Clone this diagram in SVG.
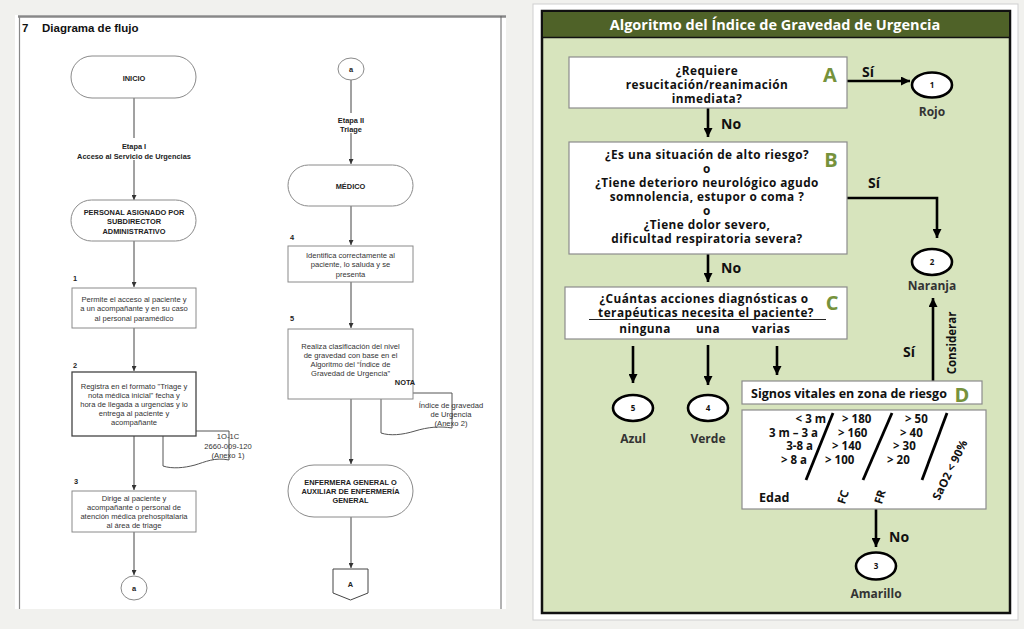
<svg xmlns="http://www.w3.org/2000/svg" width="1024" height="629" viewBox="0 0 1024 629">
<style>
.lt{font-family:"Liberation Sans",Arial,sans-serif;font-size:7.6px;fill:#333;text-anchor:middle}
.lb{font-family:"Liberation Sans",Arial,sans-serif;font-size:7.4px;font-weight:bold;fill:#222;text-anchor:middle}
.num{font-family:"Liberation Sans",Arial,sans-serif;font-size:7.4px;font-weight:bold;fill:#222}
.lbox{fill:#fff;stroke:#8a8a8a;stroke-width:1}
.lcon{stroke:#444;stroke-width:1;fill:none}
.rt{font-family:"Open Sans",Lato,sans-serif;font-size:11.8px;letter-spacing:0.45px;font-weight:bold;fill:#111;text-anchor:middle}
.rl{font-family:"Open Sans",Lato,sans-serif;font-size:12px;font-weight:bold;fill:#333;text-anchor:middle}
.yn{font-family:"Open Sans",Lato,sans-serif;font-size:14px;font-weight:bold;fill:#111}
.gl{font-family:"Open Sans",Lato,sans-serif;font-size:20px;font-weight:bold;fill:#76923c;text-anchor:middle}
.rbox{fill:#fff;stroke:#8c8c8c;stroke-width:1.2}
.circ{fill:#fff;stroke:#000;stroke-width:2.6}
.cn{font-family:"Open Sans",Lato,sans-serif;font-size:8px;font-weight:bold;fill:#111;text-anchor:middle}
.rcon{stroke:#000;stroke-width:2.6;fill:none}
.tb{font-family:"Open Sans",Lato,sans-serif;font-size:11.5px;font-weight:bold;fill:#111}
</style>
<defs>
<marker id="la" viewBox="0 0 10 10" refX="10" refY="5" markerUnits="userSpaceOnUse" markerWidth="5" markerHeight="5" orient="auto"><path d="M0,0 L10,5 L0,10 z" fill="#333"/></marker>
<marker id="ra" viewBox="0 0 10 10" refX="10" refY="5" markerUnits="userSpaceOnUse" markerWidth="9" markerHeight="9" orient="auto"><path d="M0,0 L10,5 L0,10 z" fill="#000"/></marker>
</defs>
<rect x="0" y="0" width="1024" height="629" fill="#f1f1ee"/>
<!-- left page -->
<rect x="15" y="15" width="491" height="594" fill="#fff"/>
<line x1="18" y1="16.5" x2="506" y2="16.5" stroke="#888" stroke-width="2.5"/>
<line x1="19.5" y1="16" x2="19.5" y2="609" stroke="#888" stroke-width="1.2"/>
<line x1="501" y1="16" x2="501" y2="609" stroke="#666" stroke-width="1"/>
<text x="22" y="32" font-family="Liberation Sans,Arial,sans-serif" font-size="11.5" font-weight="bold" fill="#111">7</text>
<text x="42" y="32" font-family="Liberation Sans,Arial,sans-serif" font-size="11.5" font-weight="bold" fill="#111">Diagrama de flujo</text>

<g id="left-connectors">
<line class="lcon" x1="134" y1="98" x2="134" y2="200" marker-end="url(#la)"/>
<line class="lcon" x1="134" y1="241" x2="134" y2="287" marker-end="url(#la)"/>
<line class="lcon" x1="134" y1="328" x2="134" y2="371" marker-end="url(#la)"/>
<line class="lcon" x1="134" y1="436" x2="134" y2="490" marker-end="url(#la)"/>
<line class="lcon" x1="134" y1="532" x2="134" y2="575" marker-end="url(#la)"/>
<line class="lcon" x1="351" y1="80" x2="351" y2="164" marker-end="url(#la)"/>
<line class="lcon" x1="351" y1="206" x2="351" y2="245" marker-end="url(#la)"/>
<line class="lcon" x1="351" y1="282" x2="351" y2="328" marker-end="url(#la)"/>
<line class="lcon" x1="351" y1="399" x2="351" y2="464" marker-end="url(#la)"/>
<line class="lcon" x1="351" y1="517" x2="351" y2="568" marker-end="url(#la)"/>
</g>

<g id="etapa1">
<rect x="70" y="138" width="128" height="22" fill="#fff"/>
<text class="lb" x="134" y="148.5">Etapa I</text>
<text class="lb" x="134" y="158.5">Acceso al Servicio de Urgencias</text>
</g>
<g id="etapa2">
<rect x="330" y="113" width="42" height="20" fill="#fff"/>
<text class="lb" x="351" y="122.5">Etapa II</text>
<text class="lb" x="351" y="131.5">Triage</text>
</g>

<g id="inicio"><rect class="lbox" x="71" y="56" width="125" height="42" rx="21"/><text class="lb" x="134" y="80.5">INICIO</text></g>
<g id="personal"><rect class="lbox" x="71" y="200" width="125" height="41" rx="20.5"/>
<text class="lb" x="134" y="214.5">PERSONAL ASIGNADO POR</text><text class="lb" x="134" y="224">SUBDIRECTOR</text><text class="lb" x="134" y="233.5">ADMINISTRATIVO</text></g>
<g id="paso1"><text class="num" x="73" y="280.5">1</text><rect class="lbox" x="72" y="288" width="124" height="40"/>
<text class="lt" x="134" y="301.5">Permite el acceso al paciente y</text><text class="lt" x="134" y="311">a un acompañante y en su caso</text><text class="lt" x="134" y="320.5">al personal paramédico</text></g>
<g id="anexo1"><path d="M163,431 H229 V460 C215,457 205,462 195,465 C184,468 172,469 163,466 Z" fill="#fff" stroke="#555" stroke-width="1"/>
<text class="lt" x="228" y="438.5" text-anchor="end">1O-1C</text><text class="lt" x="228" y="448.5" text-anchor="end">2660-009-120</text><text class="lt" x="228" y="458" text-anchor="end">(Anexo 1)</text></g>
<g id="paso2"><text class="num" x="73" y="367.5">2</text><rect x="72" y="372" width="124" height="64" fill="#fff" stroke="#444" stroke-width="1.3"/>
<text class="lt" x="134" y="388.5">Registra en el formato "Triage y</text><text class="lt" x="134" y="397.5">nota médica inicial" fecha y</text><text class="lt" x="134" y="406.5">hora de llegada a urgencias y lo</text><text class="lt" x="134" y="415.5">entrega al paciente y</text><text class="lt" x="134" y="425">acompañante</text></g>
<g id="paso3"><text class="num" x="74" y="483.5">3</text><rect class="lbox" x="72" y="491" width="124" height="41"/>
<text class="lt" x="134" y="500.5">Dirige al paciente y</text><text class="lt" x="134" y="509.5">acompañante o personal de</text><text class="lt" x="134" y="519">atención médica prehospitalaria</text><text class="lt" x="134" y="528">al área de triage</text></g>
<g id="conector-a1"><ellipse class="lbox" cx="134" cy="588" rx="13" ry="12" stroke="#444"/><text class="lb" x="134" y="590.5">a</text></g>

<g id="conector-a2"><ellipse class="lbox" cx="351" cy="69" rx="13" ry="11" stroke="#444"/><text class="lb" x="351" y="71.5">a</text></g>
<g id="medico"><rect class="lbox" x="288" y="165" width="125" height="41" rx="20.5"/><text class="lb" x="350.5" y="188.5">MÉDICO</text></g>
<g id="paso4"><text class="num" x="290" y="239.5">4</text><rect class="lbox" x="288" y="246" width="125" height="36"/>
<text class="lt" x="350.5" y="257.5">Identifica correctamente al</text><text class="lt" x="350.5" y="267">paciente, lo saluda y se</text><text class="lt" x="350.5" y="276.5">presenta</text></g>
<g id="anexo2"><path d="M381,393 H452 V428 C440,426 428,427 415,431 C402,435 390,436 381,433 Z" fill="#fff" stroke="#555" stroke-width="1"/>
<text class="lt" x="451" y="407.5" text-anchor="end">Índice de gravedad</text><text class="lt" x="451" y="416.5" text-anchor="end">de Urgencia</text><text class="lt" x="451" y="425.5" text-anchor="end">(Anexo 2)</text></g>
<g id="paso5"><text class="num" x="290" y="320.5">5</text><rect class="lbox" x="288" y="329" width="125" height="70"/>
<text class="lt" x="350.5" y="348.5">Realiza clasificación del nivel</text><text class="lt" x="350.5" y="357.5">de gravedad con base en el</text><text class="lt" x="350.5" y="366.5">Algoritmo del “Índice de</text><text class="lt" x="350.5" y="375.5">Gravedad de Urgencia”</text>
<text class="lb" x="405" y="384.5" text-anchor="end">NOTA</text></g>
<g id="enfermera"><rect class="lbox" x="288" y="465" width="125" height="52" rx="26"/>
<text class="lb" x="350.5" y="484.5">ENFERMERA GENERAL O</text><text class="lb" x="350.5" y="493.5">AUXILIAR DE ENFERMERÍA</text><text class="lb" x="350.5" y="502.5">GENERAL</text></g>
<g id="conector-A"><path d="M333,569 H368 V593 L350.5,600 L333,593 Z" fill="#fff" stroke="#444" stroke-width="1"/><text class="lb" x="350.5" y="586.5">A</text></g>

<!-- right panel -->
<rect x="533" y="4" width="485" height="616" fill="#fff" stroke="#cfcfcf" stroke-width="1"/>
<rect x="542" y="11" width="468" height="602" fill="#d7e4bd" stroke="#111" stroke-width="2.5"/>
<rect x="543" y="12" width="466" height="25" fill="#4f6228"/>
<line x1="542" y1="37.5" x2="1010" y2="37.5" stroke="#111" stroke-width="1.5"/>
<text x="775" y="30" font-family="'Open Sans',Lato,sans-serif" font-size="14.5" font-weight="bold" fill="#fff" text-anchor="middle">Algoritmo  del Índice de Gravedad de Urgencia</text>

<g id="right-connectors">
<line class="rcon" x1="847" y1="81" x2="910" y2="81" marker-end="url(#ra)"/>
<line class="rcon" x1="708" y1="108" x2="708" y2="137" marker-end="url(#ra)"/>
<polyline class="rcon" points="847,198 937,198 937,238" marker-end="url(#ra)"/>
<line class="rcon" x1="708" y1="254" x2="708" y2="282" marker-end="url(#ra)"/>
<line class="rcon" x1="633" y1="346" x2="633" y2="383" marker-end="url(#ra)"/>
<line class="rcon" x1="708" y1="345" x2="708" y2="385" marker-end="url(#ra)"/>
<line class="rcon" x1="777" y1="346" x2="777" y2="375" marker-end="url(#ra)"/>
<line class="rcon" x1="933" y1="381" x2="933" y2="298" marker-end="url(#ra)"/>
<line class="rcon" x1="876" y1="509" x2="876" y2="547" marker-end="url(#ra)"/>
<text class="yn" x="862" y="77">Sí</text>
<text class="yn" x="721" y="129">No</text>
<text class="yn" x="868" y="188">Sí</text>
<text class="yn" x="721" y="273">No</text>
<text class="yn" x="903" y="357">Sí</text>
<text class="tb" transform="translate(956,343) rotate(-90)" text-anchor="middle">Considerar</text>
<text class="yn" x="889" y="542">No</text>
</g>

<g id="box-A"><rect class="rbox" x="569" y="57" width="278" height="51"/>
<text class="rt" x="707" y="75">¿Requiere</text><text class="rt" x="707" y="89">resucitación/reanimación</text><text class="rt" x="707" y="103">inmediata?</text>
<text class="gl" x="830" y="82">A</text></g>
<g id="nivel-1"><ellipse class="circ" cx="932" cy="85" rx="20" ry="12.5"/><text class="cn" x="932" y="88">1</text><text class="rl" x="932" y="116">Rojo</text></g>

<g id="box-B"><rect class="rbox" x="569" y="142" width="278" height="112"/>
<text class="rt" x="707" y="158.5">¿Es una situación de alto riesgo?</text>
<text class="rt" x="707" y="172.5">o</text>
<text class="rt" x="707" y="186.5">¿Tiene deterioro neurológico agudo</text>
<text class="rt" x="707" y="200.5">somnolencia, estupor o coma ?</text>
<text class="rt" x="707" y="214.5">o</text>
<text class="rt" x="707" y="228.5">¿Tiene dolor severo,</text>
<text class="rt" x="707" y="242.5">dificultad respiratoria severa?</text>
<text class="gl" x="831" y="167">B</text></g>
<g id="nivel-2"><ellipse class="circ" cx="932" cy="262" rx="20" ry="13"/><text class="cn" x="932" y="265">2</text><text class="rl" x="932" y="290">Naranja</text></g>

<g id="box-C"><rect class="rbox" x="565" y="287" width="282" height="52"/>
<text class="rt" x="704" y="302.5">¿Cuántas acciones diagnósticas o</text>
<text class="rt" x="706" y="317">terapéuticas necesita el paciente?</text>
<line x1="589" y1="319.5" x2="826" y2="319.5" stroke="#222" stroke-width="1"/>
<text class="rt" x="645" y="332.5">ninguna</text><text class="rt" x="708" y="332.5">una</text><text class="rt" x="771" y="332.5">varias</text>
<text class="gl" x="832" y="310">C</text></g>
<g id="nivel-5"><ellipse class="circ" cx="633" cy="408" rx="20" ry="13"/><text class="cn" x="633" y="411">5</text><text class="rl" x="633" y="443">Azul</text></g>
<g id="nivel-4"><ellipse class="circ" cx="708" cy="408" rx="20" ry="13"/><text class="cn" x="708" y="411">4</text><text class="rl" x="708" y="443">Verde</text></g>

<g id="box-D"><rect class="rbox" x="742" y="381" width="240" height="23"/>
<text class="tb" x="751" y="397.5" style="font-size:12.5px">Signos vitales en zona de riesgo</text>
<text class="gl" x="962" y="402">D</text></g>
<g id="tabla"><rect class="rbox" x="742" y="410" width="244" height="99"/>
<g class="tb" text-anchor="end">
<text x="826" y="422.5">&lt; 3 m</text><text x="818" y="436.5">3 m – 3 a</text><text x="813" y="449.5">3-8 a</text><text x="807" y="463.5">&gt; 8 a</text>
</g>
<g class="tb">
<text x="842" y="422.5">&gt; 180</text><text x="838" y="436.5">&gt; 160</text><text x="832" y="449.5">&gt; 140</text><text x="825" y="463.5">&gt; 100</text>
<text x="905" y="422.5">&gt; 50</text><text x="900" y="436.5">&gt; 40</text><text x="893" y="449.5">&gt; 30</text><text x="887" y="463.5">&gt; 20</text>
<text x="759" y="501.5" style="font-size:12.5px">Edad</text>
</g>
<line x1="833" y1="413" x2="806" y2="480" stroke="#000" stroke-width="2.8"/>
<line x1="892" y1="413" x2="863" y2="480" stroke="#000" stroke-width="2.8"/>
<line x1="947" y1="413" x2="922" y2="480" stroke="#000" stroke-width="2.8"/>
<text class="tb" transform="translate(843,497) rotate(-72)" text-anchor="middle" dy="4">FC</text>
<text class="tb" transform="translate(880,497) rotate(-72)" text-anchor="middle" dy="4">FR</text>
<text class="tb" transform="translate(950,470) rotate(-64)" text-anchor="middle" dy="4">SaO2 &lt; 90%</text>
</g>
<g id="nivel-3"><ellipse class="circ" cx="876" cy="566" rx="20" ry="13.5"/><text class="cn" x="876" y="569">3</text><text class="rl" x="876" y="598">Amarillo</text></g>
</svg>
